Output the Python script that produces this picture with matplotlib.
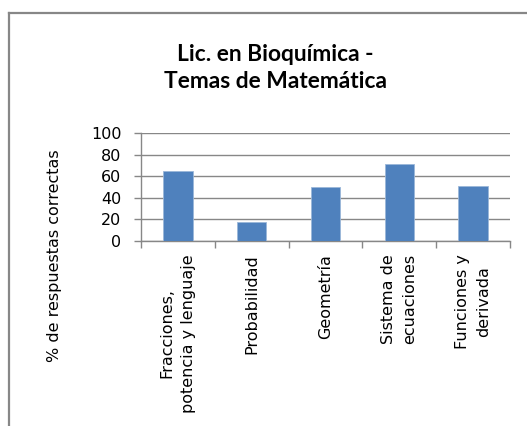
import matplotlib
matplotlib.use("Agg")
import matplotlib.pyplot as plt
from matplotlib.lines import Line2D

# Datos del gráfico
temas = ["Fracciones,\npotencia y lenguaje", "Probabilidad", "Geometría",
         "Sistema de\necuaciones", "Funciones y\nderivada"]
porcentajes = [64.6, 17.6, 50.1, 71.8, 51.4]
y_ticks = [0, 20, 40, 60, 80, 100]
titulo = ["Lic. en Bioquímica -", "Temas de Matemática"]

W, H = 527, 426
fig = plt.figure(figsize=(W / 100, H / 100), dpi=100)
fig.patch.set_facecolor("white")

# Borde del área del gráfico (estilo Excel)
gris = "#878787"
fig.add_artist(Line2D([8.5 / W, 8.5 / W], [0, 1 - 13 / H], color=gris, lw=1.6,
                      transform=fig.transFigure))
fig.add_artist(Line2D([8.5 / W, 1], [1 - 13 / H, 1 - 13 / H], color=gris, lw=1.6,
                      transform=fig.transFigure))

ax = fig.add_axes([141 / W, 1 - 240.7 / H, (510 - 141) / W, (240.7 - 133.4) / H])

x = list(range(len(temas)))
ax.bar(x, porcentajes, width=0.4, color="#4F81BD", edgecolor="#9bb7d9", linewidth=0.6, zorder=3)

ax.set_xlim(-0.5, len(temas) - 0.5)
ax.set_ylim(0, 100)
ax.set_yticks(y_ticks)
ax.yaxis.grid(True, color=gris, lw=1, zorder=0)

for s in ["top", "right"]:
    ax.spines[s].set_visible(False)
for s in ["left", "bottom"]:
    ax.spines[s].set_color(gris)
    ax.spines[s].set_linewidth(1)

ax.tick_params(axis="y", length=4.7, width=1, color=gris, pad=9.5, labelsize=11.5)
ax.set_xticks(x)
ax.set_xticks([i - 0.5 for i in range(len(temas) + 1)], minor=True)
ax.tick_params(axis="x", which="major", length=0, pad=9.5)
ax.tick_params(axis="x", which="minor", length=4.7, width=1, color=gris)
ax.set_xticklabels(temas, rotation=90, ha="center", va="top", fontsize=11.5,
                   multialignment="center", linespacing=1.55)

ax.set_ylabel("% de respuestas correctas", fontsize=11.5)
ax.yaxis.set_label_coords(-0.214, -0.139)

# Título en dos líneas
for linea, yb in zip(titulo, [60.7, 88.3]):
    fig.text(275 / W, 1 - yb / H, linea, ha="center", va="baseline",
             fontsize=16.4, fontweight="bold", family=["Lato", "DejaVu Sans"])

fig.savefig("out.png", dpi=100)
